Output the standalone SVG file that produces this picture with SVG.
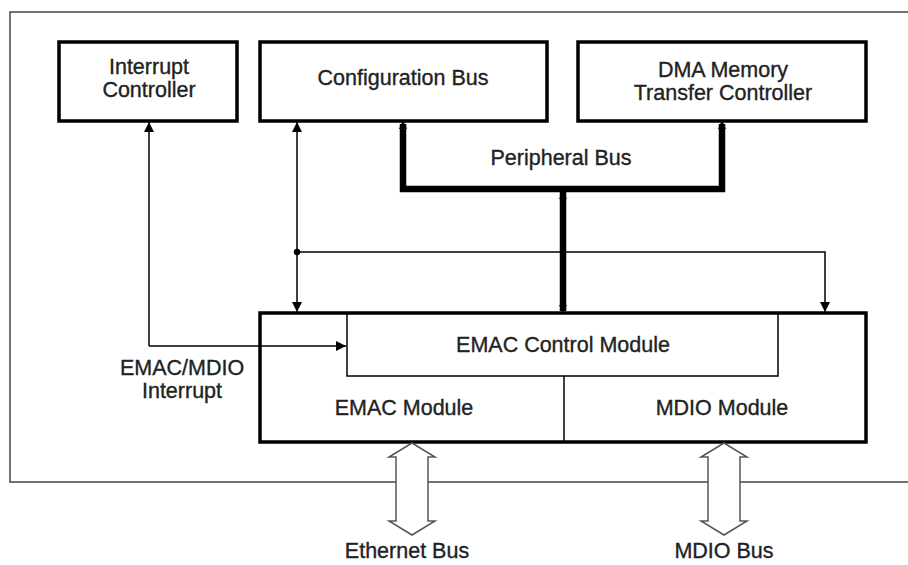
<svg xmlns="http://www.w3.org/2000/svg" width="908" height="565" viewBox="0 0 908 565">
<style>
text{font-family:"Liberation Sans",Arial,sans-serif;font-size:21.5px;fill:#222;stroke:#222;stroke-width:0.35;text-anchor:middle}
.box{fill:#fff;stroke:#000;stroke-width:3.5}
.thin{fill:none;stroke:#000;stroke-width:1.5}
.bus{fill:none;stroke:#000;stroke-width:6.5;stroke-linejoin:miter}
.hollow{fill:#fff;stroke:#555;stroke-width:1.5;stroke-linejoin:miter}
</style>
<defs>
<marker id="ah" viewBox="0 0 10 10" refX="10" refY="5" markerWidth="10" markerHeight="10" markerUnits="userSpaceOnUse" orient="auto">
<path d="M0,0 L10,5 L0,10 Z" fill="#000"/>
</marker>
</defs>
<rect width="908" height="565" fill="#fff"/>
<rect x="10" y="12" width="910" height="470" fill="none" stroke="#444" stroke-width="1.5"/>

<g id="interrupt-controller">
<rect class="box" x="59" y="42" width="178" height="79"/>
<text x="149" y="74">Interrupt</text>
<text x="149" y="97">Controller</text>
</g>
<g id="configuration-bus">
<rect class="box" x="260" y="42" width="287" height="79"/>
<text x="403" y="85">Configuration Bus</text>
</g>
<g id="dma-controller">
<rect class="box" x="578" y="42" width="288" height="79"/>
<text x="723" y="77">DMA Memory</text>
<text x="723" y="100">Transfer Controller</text>
</g>
<g id="emac-block">
<rect class="box" x="260" y="313" width="606" height="129"/>
<rect class="thin" x="347" y="313" width="431" height="63"/>
<line class="thin" x1="564" y1="376" x2="564" y2="442"/>
</g>
<g id="emac-control-module">
<text x="563" y="352">EMAC Control Module</text>
</g>
<g id="emac-module">
<text x="404" y="415">EMAC Module</text>
</g>
<g id="mdio-module">
<text x="722" y="415">MDIO Module</text>
</g>

<g id="connectors">
<path class="bus" d="M403,124 L403,189 L722,189 L722,124"/>
<line class="bus" x1="563" y1="189" x2="563" y2="311"/>
<path d="M403,120 L399,129 L407,129 Z" fill="#000"/>
<path d="M722,120 L718,129 L726,129 Z" fill="#000"/>
<path d="M563,192 L559,199 L567,199 Z" fill="#000"/>
<path d="M563,313 L559,305 L567,305 Z" fill="#000"/>
<line class="thin" x1="149" y1="346" x2="149" y2="122" marker-end="url(#ah)"/>
<line class="thin" x1="149" y1="346" x2="346" y2="346" marker-end="url(#ah)"/>
<line class="thin" x1="297" y1="252" x2="297" y2="122" marker-end="url(#ah)"/>
<line class="thin" x1="297" y1="252" x2="297" y2="312" marker-end="url(#ah)"/>
<polyline class="thin" points="297,252 825,252 825,312" marker-end="url(#ah)"/>
<circle cx="297" cy="252" r="3.2" fill="#000"/>
<polygon class="hollow" points="412,443 435,457 428,457 428,521 435,521 412,535 389,521 396,521 396,457 389,457"/>
<polygon class="hollow" points="724,443 747,457 740,457 740,521 747,521 724,535 701,521 708,521 708,457 701,457"/>
</g>

<g id="peripheral-bus">
<text x="561" y="165">Peripheral Bus</text>
</g>
<g id="ethernet-bus">
<text x="407" y="558">Ethernet Bus</text>
</g>
<g id="mdio-bus">
<text x="724" y="558">MDIO Bus</text>
</g>
<g id="interrupt-label">
<text x="182" y="375">EMAC/MDIO</text>
<text x="182" y="398">Interrupt</text>
</g>
</svg>
